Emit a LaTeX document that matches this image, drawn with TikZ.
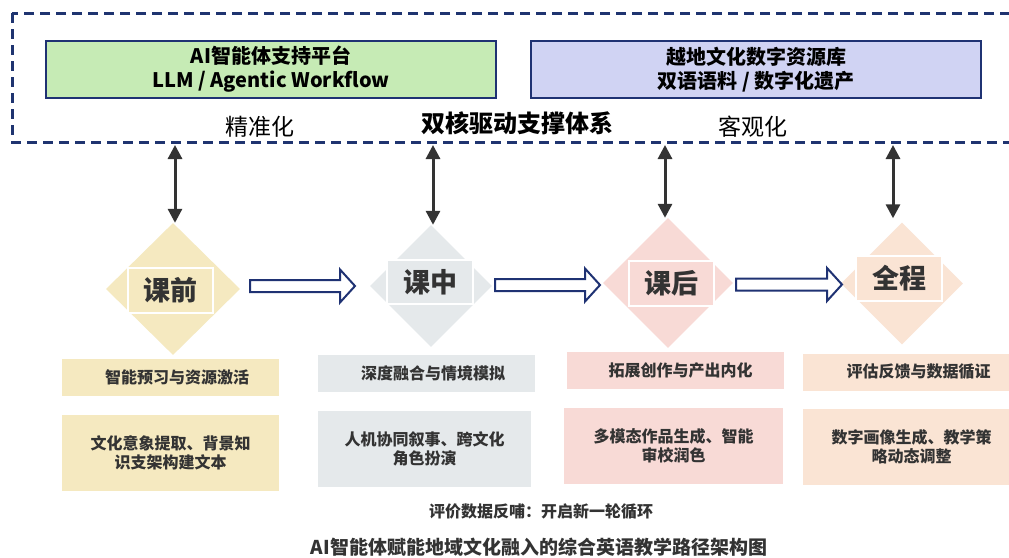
\documentclass[tikz,border=0pt]{standalone}
\usepackage{fontspec}
\setmainfont{Noto Sans CJK SC}
\usetikzlibrary{arrows.meta,shapes.geometric,calc}
\definecolor{navy}{HTML}{1F3273}
\definecolor{framec}{HTML}{1F3470}
\definecolor{greenc}{HTML}{C6EBB5}
\definecolor{lavc}{HTML}{D0D3F3}
\definecolor{yelc}{HTML}{F5E9C0}
\definecolor{grayc}{HTML}{E5E9EB}
\definecolor{pinkc}{HTML}{F8DAD6}
\definecolor{peachc}{HTML}{FAE4D4}
\definecolor{txtc}{HTML}{333333}
\definecolor{arrc}{HTML}{333333}
\tikzset{
  topbox/.style={draw=navy, line width=1.8pt, minimum width=450, minimum height=57, inner sep=0, align=center, font=\bfseries\fontsize{20}{24}\selectfont, text=black},
  dia/.style={diamond, draw=none, inner sep=0},
  lbl/.style={draw=white, line width=1.2pt, minimum width=85, minimum height=45, inner sep=0, text=txtc, font=\bfseries\fontsize{27}{30}\selectfont},
  tbox/.style={draw=none, minimum width=217, inner sep=0, align=center, text=txtc, font=\bfseries\fontsize{16}{19}\selectfont},
  varrow/.style={draw=arrc, line width=3pt, {Triangle[width=14pt,length=14pt]}-{Triangle[width=14pt,length=14pt]}},
  blockarr/.style={draw=navy, line width=2pt, fill=white, line join=miter},
  sidelbl/.style={font=\fontsize{23}{26}\selectfont, text=black, inner sep=0}
}
\newcommand{\blkarrow}[3]{\draw[blockarr] (#1,#3-6) -- (#2-15,#3-6) -- (#2-15,#3-16.5) -- (#2,#3) -- (#2-15,#3+16.5) -- (#2-15,#3+6) -- (#1,#3+6) -- cycle;}
\begin{document}
\begin{tikzpicture}[x=1pt,y=-1pt]
\useasboundingbox (0,0) rectangle (1009,557);
\clip (0,0) rectangle (1009,557);
\fill[white] (0,0) rectangle (1009,557);

% dashed support frame
\draw[framec, line width=3pt, dash pattern=on 10pt off 6pt] (12,13) rectangle (1030,142);

% top boxes
\node[topbox, fill=greenc] (ai) at (271,69.5) {AI智能体支持平台\\LLM / Agentic Workflow};
\node[topbox, fill=lavc] (db) at (756,69.5) {越地文化数字资源库\\双语语料 / 数字化遗产};
\node[sidelbl] (jz) at (260,127) {精准化};
\node[sidelbl, font=\bfseries\fontsize{24}{26}\selectfont] (sh) at (517,123) {双核驱动支撑体系};
\node[sidelbl] (kg) at (753,127) {客观化};

% diamonds
\node[dia, fill=yelc, minimum width=134, minimum height=132] (d1) at (173,289) {};
\node[dia, fill=grayc, minimum width=122, minimum height=122] (d2) at (431,286) {};
\node[dia, fill=pinkc, minimum width=130, minimum height=130] (d3) at (668,283) {};
\node[dia, fill=peachc, minimum width=122, minimum height=122] (d4) at (902,283.5) {};

\node[lbl, fill=yelc] (l1) at (170.5,290.5) {课前};
\node[lbl, fill=grayc, minimum width=86, minimum height=44] (l2) at (430,282) {课中};
\node[lbl, fill=pinkc] (l3) at (671.5,283.5) {课后};
\node[lbl, fill=peachc, minimum width=86] (l4) at (899,278.5) {全程};

% vertical double arrows
\coordinate (t1) at (175,145);
\coordinate (t2) at (433,145);
\coordinate (t3) at (665,145);
\coordinate (t4) at (893,145);
\draw[varrow] (t1) -- (t1 |- d1.north);
\draw[varrow] (t2) -- (t2 |- d2.north);
\draw[varrow] (t3) -- (t3 |- d3.north);
\draw[varrow] ($(t4)$) -- ($(t4 |- d4.north)+(0,-4)$);

% block arrows
\blkarrow{250}{355}{286}
\blkarrow{495}{600}{285}
\blkarrow{736}{842}{284.5}

% text boxes row 1
\node[tbox, fill=yelc, minimum height=37] (b1) at (170.5,377.5) {\hspace*{13pt}智能预习与资源激活};
\node[tbox, fill=grayc, minimum height=37] (b2) at (426.5,373.5) {\hspace*{13pt}深度融合与情境模拟};
\node[tbox, fill=pinkc, minimum height=37] (b3) at (675.5,370.5) {\hspace*{10pt}拓展创作与产出内化};
\node[tbox, fill=peachc, minimum height=37] (b4) at (911.5,372) {\hspace*{14pt}评估反馈与数据循证};

% text boxes row 2
\node[tbox, fill=yelc, minimum height=76] (b5) at (170.5,453) {文化意象提取、背景知\\识支架构建文本};
\node[tbox, fill=grayc, minimum width=213, minimum height=76] (b6) at (424.5,449) {人机协同叙事、跨文化\\角色扮演};
\node[tbox, fill=pinkc, minimum width=219, minimum height=76] (b7) at (673.5,446) {多模态作品生成、智能\\审校润色};
\node[tbox, fill=peachc, minimum height=76] (b8) at (911.5,447) {数字画像生成、教学策\\略动态调整};

% bottom texts
\node[text=txtc, font=\bfseries\fontsize{16}{19}\selectfont, inner sep=0] (fb) at (541,512) {评价数据反哺：开启新一轮循环};
\node[text=txtc, font=\bfseries\fontsize{19}{22}\selectfont, inner sep=0] (title) at (539,547) {AI智能体赋能地域文化融入的综合英语教学路径架构图};
\end{tikzpicture}
\end{document}
